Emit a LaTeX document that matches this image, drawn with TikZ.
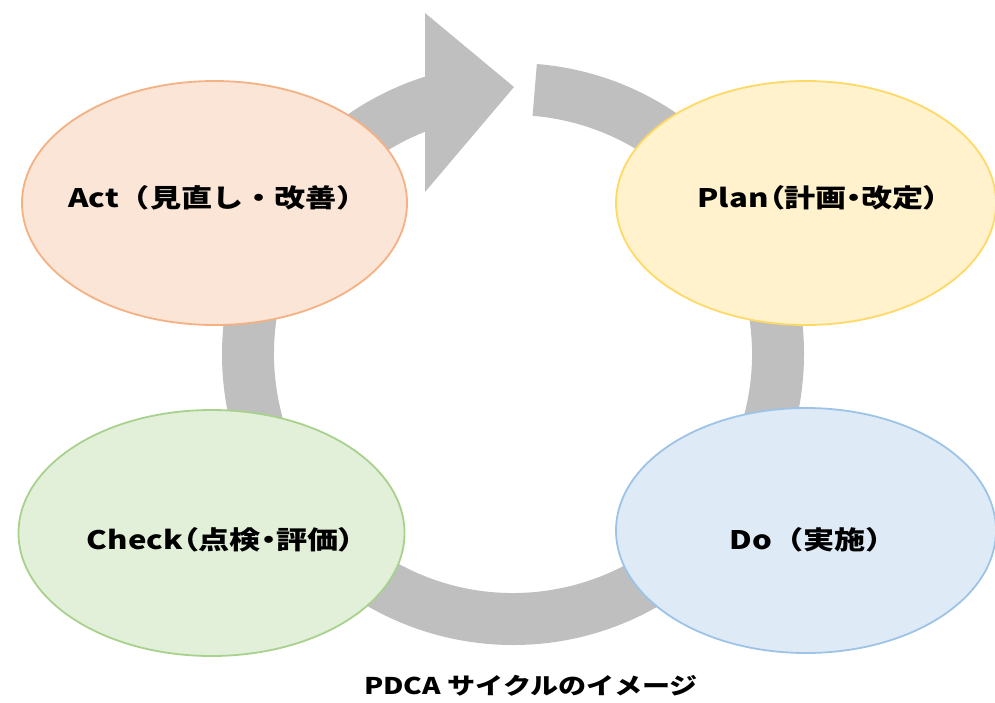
\documentclass[tikz,border=0pt]{standalone}
\usepackage{fontspec}
\usepackage{graphicx}
\usetikzlibrary{shapes.geometric}
\newfontfamily\jp{Noto Sans CJK JP}
\newfontfamily\jpp{Noto Sans CJK JP}[RawFeature=+palt]
\newcommand{\wide}[1]{\scalebox{1.22}[1]{#1}}
\definecolor{ringgray}{HTML}{BFBFBF}
\definecolor{actfill}{HTML}{FBE5D6}
\definecolor{actline}{HTML}{F4B183}
\definecolor{planfill}{HTML}{FFF2CC}
\definecolor{planline}{HTML}{FFD966}
\definecolor{checkfill}{HTML}{E2F0D9}
\definecolor{checkline}{HTML}{A9D18E}
\definecolor{dofill}{HTML}{DEEBF7}
\definecolor{doline}{HTML}{9DC3E6}
\begin{document}
\begin{tikzpicture}[x=1pt,y=-1pt,
  phase/.style={ellipse, line width=1.8pt, inner sep=0pt},
  lbl/.style={font=\jp\bfseries\fontsize{25.5}{30}\selectfont, inner sep=0pt},
  lblp/.style={font=\jpp\bfseries\fontsize{25.5}{30}\selectfont, inner sep=0pt},
  captext/.style={font=\jp\bfseries\fontsize{23}{27}\selectfont, inner sep=0pt}]
\useasboundingbox (0,0) rectangle (995,702);
% ring
\coordinate (c) at (513,354);
\fill[ringgray] ([shift={(c)}]-85.3:291) arc[start angle=-85.3, end angle=260, radius=291]
  -- ([shift={(c)}]260:239) arc[start angle=260, end angle=-85.3, radius=239] -- cycle;
\fill[ringgray] (425,13) -- (425,192) -- (514,87) -- cycle;
% phases
\node[phase, draw=actline, fill=actfill, minimum width=385pt, minimum height=244pt] (act) at (214.5,203) {};
\node[phase, draw=planline, fill=planfill, minimum width=380pt, minimum height=244pt] (plan) at (806,203) {};
\node[phase, draw=checkline, fill=checkfill, minimum width=386pt, minimum height=246pt] (check) at (211.5,533) {};
\node[phase, draw=doline, fill=dofill, minimum width=380pt, minimum height=245pt] (do) at (806,530.5) {};
\node[lbl] (actt) at (218,197.5) {\wide{Act（見直し・改善）}};
\node[lblp] (plant) at (818.5,197.5) {\wide{Plan（計画・改定）}};
\node[lblp] (checkt) at (220.5,539.5) {\wide{Check（点検・評価）}};
\node[lbl] (dot) at (813,539.5) {\wide{Do（実施）}};
\node[captext] (caption) at (531,686) {\wide{PDCA サイクルのイメージ}};
\end{tikzpicture}
\end{document}
